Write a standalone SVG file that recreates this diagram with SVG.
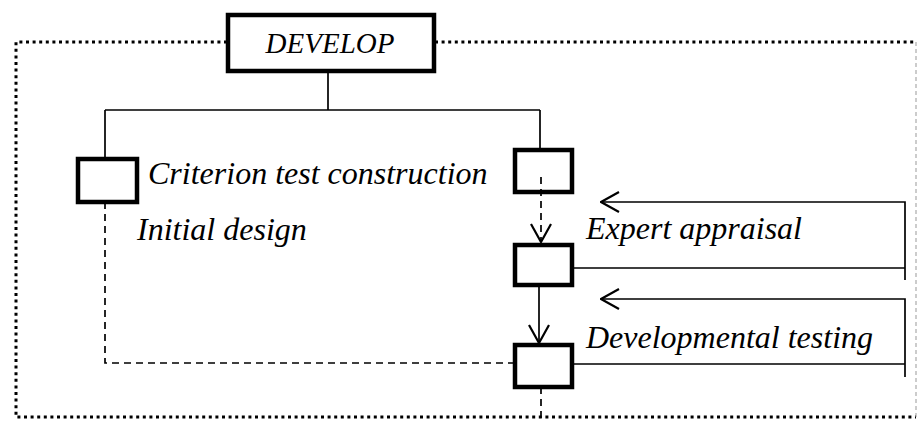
<svg xmlns="http://www.w3.org/2000/svg" width="918" height="421" viewBox="0 0 918 421">
<style>
.lbl{font-family:"Liberation Serif","Times New Roman",serif;font-style:italic;font-size:32px;fill:#000}
.big{font-size:29px}
.box{fill:#fff;stroke:#000;stroke-width:4.5}
.ln{fill:none;stroke:#000;stroke-width:1.7}
.dash{fill:none;stroke:#000;stroke-width:1.7;stroke-dasharray:7,5}
.dot{fill:none;stroke:#000;stroke-width:3;stroke-dasharray:3,3.6}
</style>
<defs>
<marker id="open" viewBox="0 0 20 22" refX="19" refY="11" markerWidth="20" markerHeight="22" markerUnits="userSpaceOnUse" orient="auto">
<path d="M1,1 L19,11 L1,21" fill="none" stroke="#000" stroke-width="2.2"/>
</marker>
</defs>
<g id="frame">
<path class="dot" d="M227,42 H16 V417 H916"/>
<path class="dot" d="M435,42 H916"/>
<path d="M916,42 V417" fill="none" stroke="#999" stroke-width="1" stroke-dasharray="4,3"/>
</g>
<g id="connectors">
<path class="ln" d="M328,72 V110 M105,110 H540 M105,110 V159 M540,110 V150"/>
<path class="dash" d="M105,202 V363 H515"/>
<path class="dash" d="M541,177 V242" marker-end="url(#open)"/>
<path class="ln" d="M539,282 V343" marker-end="url(#open)"/>
<path class="dash" d="M541,387 V418"/>
<path class="ln" d="M573,268 H905 M905,280 V202 H601" marker-end="url(#open)"/>
<path class="ln" d="M573,364 H905 M905,377 V299 H601" marker-end="url(#open)"/>
</g>
<g id="develop">
<rect class="box" x="228" y="15" width="206" height="56"/>
<text class="lbl big" x="330" y="53" text-anchor="middle">DEVELOP</text>
</g>
<g id="criterion">
<rect class="box" x="78" y="159" width="59" height="43"/>
<text class="lbl" x="148" y="184">Criterion test construction</text>
</g>
<g id="initial">
<text class="lbl" x="137" y="240">Initial design</text>
</g>
<g id="stepTop">
<rect class="box" x="515" y="150" width="57" height="42"/>
</g>
<g id="expert">
<rect class="box" x="515" y="245" width="57" height="40"/>
<text class="lbl" x="586" y="239">Expert appraisal</text>
</g>
<g id="devtest">
<rect class="box" x="515" y="345" width="57" height="42"/>
<text class="lbl" x="586" y="348">Developmental testing</text>
</g>
<path class="dash" d="M541,177 V192"/>
</svg>
